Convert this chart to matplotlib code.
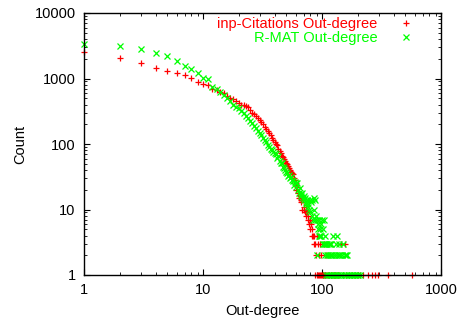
import matplotlib
matplotlib.use("Agg")
import matplotlib.pyplot as plt
from matplotlib.ticker import LogLocator, NullFormatter, FixedLocator

plt.rcParams['font.family'] = ['Liberation Sans', 'DejaVu Sans']

# inp-Citations out-degree distribution
cit_deg = [1, 2, 3, 4, 5, 6, 7, 8, 9, 10, 11, 12, 13, 14, 15, 16, 17, 18, 19, 20,
           21, 22, 23, 24, 25, 26, 27, 28, 29, 30, 31, 32, 33, 34, 35, 36, 37, 38, 39, 40,
           41, 42, 43, 44, 45, 46, 47, 48, 49, 50, 51, 52, 53, 54, 55, 56, 57, 58, 59,
           60, 61, 62, 63, 64, 65, 66, 67, 68, 69, 70, 71, 72, 73, 74, 75, 76, 77, 78, 79,
           80, 81, 82, 83, 84, 85, 86, 87, 88, 89, 90, 91, 92, 93, 94, 95, 96, 97, 98, 99,
           100, 101, 102, 103, 104, 105, 107, 108, 110, 112, 115, 118, 120, 123, 125, 128,
           131, 135, 140, 145, 150, 155, 160, 170, 180, 190, 200, 208, 220, 243, 262, 278,
           295, 359, 570]
cit_cnt = [2520, 2050, 1730, 1440, 1300, 1210, 1130, 1020, 890, 820, 800, 700, 660, 620, 600, 540, 505, 490, 450, 420,
           400, 390, 380, 370, 330, 300, 290, 270, 250, 235, 215, 200, 185, 170, 160, 147, 137, 125, 115, 107,
           100, 96, 85, 78, 72, 66, 63, 58, 55, 52, 50, 46, 43, 40, 38, 36, 35, 30, 28,
           25, 20, 22, 18, 15, 16, 14, 13, 10, 14, 11, 10, 9, 10, 8, 9, 7, 8, 6, 7,
           5, 6, 4, 5, 4, 3, 4, 1, 3, 2, 1, 4, 3, 1, 2, 1, 3, 1, 1, 2,
           1, 1, 1, 3, 1, 1, 1, 2, 1, 1, 1, 1, 1, 1, 1, 1,
           1, 1, 1, 3, 1, 3, 1, 1, 1, 1, 1, 1, 1, 1, 1, 1,
           1, 1, 1]

# R-MAT out-degree distribution
rmat_deg = [1, 2, 3, 4, 5, 6, 7, 8, 9, 10, 11, 12, 13, 14, 15, 16, 17, 18, 19, 20,
            21, 22, 23, 24, 25, 26, 27, 28, 29, 30, 31, 32, 33, 34, 35, 36, 37, 38, 39, 40,
            41, 42, 43, 44, 45, 46, 47, 48, 49, 50, 51, 52, 53, 54, 55, 56, 57, 58, 59,
            60, 61, 62, 63, 64, 65, 66, 67, 68, 69, 70, 71, 72, 73, 74, 75, 76, 77, 78, 79,
            80, 81, 82, 83, 84, 85, 86, 87, 88, 89, 90, 91, 92, 93, 94, 95, 96, 97, 98, 99,
            100, 101, 102, 103, 104, 105, 106, 107, 108, 109, 110, 111, 112, 113, 114, 115,
            116, 117, 118, 119, 120, 121, 122, 124, 125, 126, 128, 130, 132, 133, 134, 135,
            137, 138, 140, 141, 143, 145, 147, 150, 152, 155, 158, 160, 162, 165, 170, 175,
            180, 185, 190, 195, 200, 208]
rmat_cnt = [3360, 3150, 2830, 2460, 2190, 1850, 1550, 1400, 1210, 1020, 1000, 740, 700, 620, 560, 500, 450, 400, 370, 350,
            320, 300, 270, 250, 225, 210, 190, 175, 160, 147, 135, 123, 115, 107, 98, 90, 85, 80, 76, 73,
            70, 61, 65, 55, 52, 51, 45, 43, 40, 38, 36, 33, 34, 30, 31, 28, 27, 24, 26,
            25, 22, 25, 20, 18, 21, 17, 16, 18, 15, 14, 16, 15, 12, 13, 14, 11, 12, 10, 14,
            9, 13, 14, 8, 7, 15, 10, 14, 7, 8, 2, 7, 5, 6, 7, 4, 5, 4, 6, 4,
            7, 3, 5, 3, 7, 2, 4, 3, 1, 3, 2, 3, 1, 2, 3, 1,
            2, 3, 1, 2, 3, 1, 2, 4, 1, 2, 1, 2, 3, 1, 4, 2,
            1, 2, 3, 1, 2, 1, 2, 3, 1, 2, 1, 2, 2, 1, 1, 1,
            1, 1, 1, 1, 1, 1]

labels = ['inp-Citations Out-degree', 'R-MAT Out-degree']
colors = ['#ff0000', '#00ff00']

fig = plt.figure(figsize=(4.58, 3.24), dpi=100)
ax = fig.add_axes([84/458, 49/324, (441-84)/458, (275-13)/324])

ax.plot(cit_deg, cit_cnt, linestyle='none', marker='+', markersize=5, markeredgewidth=0.9,
        color=colors[0], label=labels[0], clip_on=False)
ax.plot(rmat_deg, rmat_cnt, linestyle='none', marker='x', markersize=4, markeredgewidth=0.9,
        color=colors[1], label=labels[1], clip_on=False)

ax.set_xscale('log')
ax.set_yscale('log')
ax.set_xlim(1, 1000)
ax.set_ylim(1, 10000)

ax.xaxis.set_major_locator(FixedLocator([1, 10, 100, 1000]))
ax.yaxis.set_major_locator(FixedLocator([1, 10, 100, 1000, 10000]))
ax.set_xticklabels(['1', '10', '100', '1000'])
ax.set_yticklabels(['1', '10', '100', '1000', '10000'])
ax.xaxis.set_minor_locator(LogLocator(base=10, subs=range(2, 10), numticks=20))
ax.yaxis.set_minor_locator(LogLocator(base=10, subs=range(2, 10), numticks=20))
ax.xaxis.set_minor_formatter(NullFormatter())
ax.yaxis.set_minor_formatter(NullFormatter())

ax.tick_params(which='both', direction='in', top=True, right=True, labelsize=10.5, colors='black')
ax.tick_params(which='major', length=4.5, width=0.8, pad=6)
ax.tick_params(which='minor', length=2.5, width=0.6)
for s in ax.spines.values():
    s.set_linewidth(1.0)

ax.set_xlabel('Out-degree', fontsize=10.5, labelpad=5)
ax.set_ylabel('Count', fontsize=10.5, labelpad=5)

ax.legend(loc='upper right', bbox_to_anchor=(0.961, 1.023), frameon=False, markerfirst=False,
          fontsize=10.5, labelcolor=colors, handletextpad=1.2, borderaxespad=0.3,
          labelspacing=0.0, handlelength=1.5)

fig.savefig('out.png', dpi=100)
